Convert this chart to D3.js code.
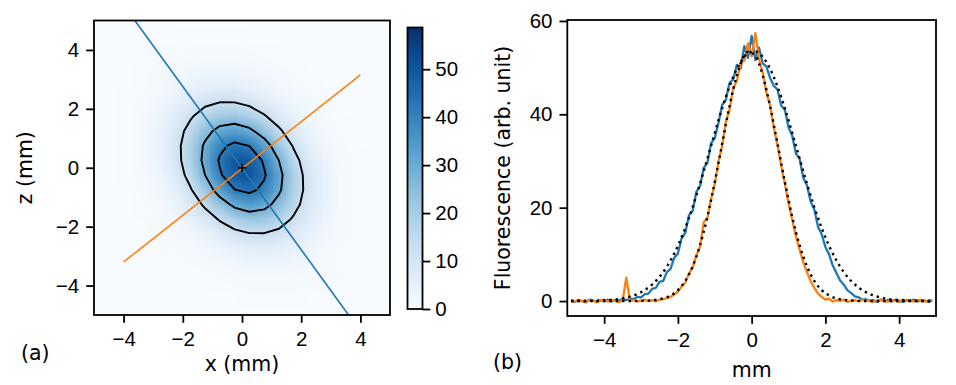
<!DOCTYPE html>
<html>
<head>
<meta charset="utf-8">
<script src="https://cdn.jsdelivr.net/npm/d3@7"></script>
<style>
body { margin: 0; background: #fff; }
svg { display: block; font-family: "DejaVu Sans", sans-serif; }
.axis path.domain { display: none; }
.axis line { stroke: #000; stroke-width: 1.8; }
.axis text { font-size: 20.5px; fill: #000; }
</style>
</head>
<body>
<div class="chart-wrapper"></div>
<script>
// ---- panel (a): fluorescence image, 0.5 mm cells, x and z from -5 to 5 mm (top row z = 4.75)
const heat = [
  [0,0,0,0,0,0.1,0.1,0.1,0.1,0.1,0,0,0,0,0,0,0,0,0,0],
  [0,0,0,0.1,0.1,0.2,0.3,0.3,0.3,0.3,0.2,0.1,0.1,0,0,0,0,0,0,0],
  [0,0,0.1,0.1,0.3,0.5,0.8,1.0,1.0,0.9,0.7,0.4,0.2,0.1,0,0,0,0,0,0],
  [0,0,0.1,0.3,0.7,1.3,2.0,2.5,2.7,2.5,1.9,1.2,0.7,0.3,0.1,0,0,0,0,0],
  [0,0.1,0.2,0.6,1.3,2.6,4.1,5.6,6.3,6.0,4.8,3.2,1.8,0.8,0.3,0.1,0,0,0,0],
  [0,0.1,0.3,0.9,2.2,4.5,7.5,10.6,12.5,12.4,10.2,7.1,4.2,2.0,0.8,0.3,0.1,0,0,0],
  [0,0.1,0.4,1.3,3.2,6.8,11.8,17.3,21.3,22.0,19.0,13.8,8.4,4.3,1.8,0.7,0.2,0.1,0,0],
  [0,0.1,0.5,1.6,4.0,8.8,16.0,24.4,31.3,33.7,30.3,22.9,14.5,7.7,3.4,1.3,0.4,0.1,0,0],
  [0,0.1,0.5,1.6,4.3,9.8,18.6,29.6,39.6,44.4,41.7,32.9,21.7,12.0,5.6,2.2,0.7,0.2,0,0],
  [0,0.1,0.4,1.4,4.0,9.4,18.6,31.0,43.2,50.4,49.4,40.6,27.9,16.1,7.8,3.2,1.1,0.3,0.1,0],
  [0,0.1,0.3,1.1,3.2,7.8,16.1,27.9,40.6,49.4,50.4,43.2,31.0,18.6,9.4,4.0,1.4,0.4,0.1,0],
  [0,0,0.2,0.7,2.2,5.6,12.0,21.7,32.9,41.7,44.4,39.6,29.6,18.6,9.8,4.3,1.6,0.5,0.1,0],
  [0,0,0.1,0.4,1.3,3.4,7.7,14.5,22.9,30.3,33.7,31.3,24.4,16.0,8.8,4.0,1.6,0.5,0.1,0],
  [0,0,0.1,0.2,0.7,1.8,4.3,8.4,13.8,19.0,22.0,21.3,17.3,11.8,6.8,3.2,1.3,0.4,0.1,0],
  [0,0,0,0.1,0.3,0.8,2.0,4.2,7.1,10.2,12.4,12.5,10.6,7.5,4.5,2.2,0.9,0.3,0.1,0],
  [0,0,0,0,0.1,0.3,0.8,1.8,3.2,4.8,6.0,6.3,5.6,4.1,2.6,1.3,0.6,0.2,0.1,0],
  [0,0,0,0,0,0.1,0.3,0.7,1.2,1.9,2.5,2.7,2.5,2.0,1.3,0.7,0.3,0.1,0,0],
  [0,0,0,0,0,0,0.1,0.2,0.4,0.7,0.9,1.0,1.0,0.8,0.5,0.3,0.1,0.1,0,0],
  [0,0,0,0,0,0,0,0.1,0.1,0.2,0.3,0.3,0.3,0.3,0.2,0.1,0.1,0,0,0],
  [0,0,0,0,0,0,0,0,0,0,0.1,0.1,0.1,0.1,0.1,0,0,0,0,0]
]
const heatExtent = [-5, 5]
const contourLevels = [13, 28, 42]
const colorMax = 58.7
const colorTicks = [0, 10, 20, 30, 40, 50]
const axisTicksA = [-4, -2, 0, 2, 4]

// cut lines through the spot
const blueCutX = [-3.62, 3.6]
const blueCutZ = [5.0, -5.0]
const orangeCutX = [-4.0, 4.0]
const orangeCutZ = [-3.2, 3.15]
const centre = [0, 0]

// ---- panel (b): profiles along the two cuts, 0.1 mm steps from -4.9 to 4.9
const profileMM = d3.range(-49, 50).map(i => i / 10)
const blueProfile = [
  0.1,-0.2,0.2,0.0,-0.3,0.3,0.1,-0.2,0.2,0.0,
  0.3,-0.1,0.2,0.1,0.4,0.2,0.5,0.4,0.9,0.8,
  1.5,1.6,2.6,2.8,4.1,4.3,6.2,6.9,9.3,10.2,
  13.4,14.6,18.4,19.3,23.4,24.6,28.5,29.6,33.8,34.9,
  38.2,42.0,43.1,46.7,47.5,50.6,49.8,54.6,52.1,56.8,
  51.6,54.3,50.9,50.2,47.8,46.1,45.3,41.9,41.0,37.2,
  35.4,31.6,30.5,26.4,24.8,21.3,19.6,15.9,14.3,11.6,
  10.0,7.6,6.0,4.4,3.5,2.3,1.7,1.0,0.8,0.3,
  0.4,0.0,0.2,-0.2,0.3,0.0,0.2,-0.1,0.3,0.1,
  -0.2,0.2,0.0,0.3,-0.1,0.2,0.1,-0.2,0.2
]
const orangeProfile = [
  0.2,-0.1,0.3,0.0,-0.2,0.2,0.1,-0.3,0.1,0.3,
  -0.1,0.2,0.0,-0.2,0.1,5.0,0.0,0.2,-0.1,0.1,
  0.3,0.0,0.2,-0.1,0.3,0.4,0.6,0.9,1.4,2.0,
  3.1,4.0,5.9,7.2,9.8,11.6,16.9,17.8,21.9,25.1,
  29.8,33.2,38.4,41.0,45.6,47.2,50.9,51.5,55.2,52.4,
  57.4,51.8,48.9,44.6,42.0,37.1,33.5,29.0,25.2,21.0,
  17.4,13.9,11.0,8.3,6.2,4.3,2.8,1.6,0.9,0.3,
  0.5,-0.1,0.2,0.0,0.3,-0.2,0.1,0.2,-0.1,0.3,
  0.0,0.2,-0.2,0.1,0.3,0.0,-0.1,0.2,0.1,-0.2,
  0.3,0.0,0.1,-0.1,0.2,0.3,-0.1,0.1,0.2
]
// gaussian fits (dotted), 0.2 mm steps from -4.9 to 4.9
const fitMM = d3.range(-49, 50, 2).map(i => i / 10)
const blueFit = [
  0.01,0.02,0.03,0.06,0.11,0.20,0.34,0.58,0.95,1.52,
  2.35,3.54,5.18,7.36,10.17,13.66,17.81,22.58,27.81,33.27,
  38.70,43.72,48.0,51.2,53.07,53.45,52.3,49.75,45.95,41.28,
  36.0,30.53,25.14,20.11,15.65,11.83,8.69,6.20,4.30,2.90,
  1.90,1.21,0.74,0.45,0.26,0.15,0.08,0.04,0.02,0.01
]
const orangeFit = [
  0,0,0,0,0,0,0,0,0.01,0.03,
  0.07,0.17,0.39,0.84,1.69,3.21,5.71,9.50,14.82,21.63,
  29.55,37.81,45.30,50.82,53.39,52.52,48.38,41.72,33.77,25.54,
  18.04,11.96,7.43,4.32,2.35,1.20,0.57,0.26,0.11,0.04,
  0.01,0,0,0,0,0,0,0,0,0
]
const axisTicksBX = [-4, -2, 0, 2, 4]
const axisTicksBY = [0, 20, 40, 60]

const blue = '#1f77b4'
const orange = '#ff7f0e'
const fontSize = '20.5px'

const width = 956, height = 385

const svg = d3.select('.chart-wrapper').append('svg')
  .attr('width', width)
  .attr('height', height)

const defs = svg.append('defs')

// ================= panel (a) =================
const a = {left: 94, right: 390, top: 20.5, bottom: 315}
const xA = d3.scaleLinear().domain([-5, 5]).range([a.left, a.right])
const zA = d3.scaleLinear().domain([-5, 5]).range([a.bottom, a.top])
const color = d3.scaleSequential(d3.interpolateBlues).domain([0, colorMax])

defs.append('clipPath').attr('id', 'clipA')
  .append('rect')
  .attr('x', a.left).attr('y', a.top)
  .attr('width', a.right - a.left).attr('height', a.bottom - a.top)

const gA = svg.append('g').attr('clip-path', 'url(#clipA)')

gA.append('rect')
  .attr('x', a.left).attr('y', a.top)
  .attr('width', a.right - a.left).attr('height', a.bottom - a.top)
  .attr('fill', color(0))

// paint the grid into a tiny canvas, the browser smooths it when scaled up
const n = heat.length
const canvas = document.createElement('canvas')
canvas.width = n; canvas.height = n
const ctx = canvas.getContext('2d')
const img = ctx.createImageData(n, n)
heat.forEach((row, j) => row.forEach((v, i) => {
  const c = d3.rgb(color(v))
  const k = 4 * (j * n + i)
  img.data[k] = c.r; img.data[k + 1] = c.g; img.data[k + 2] = c.b; img.data[k + 3] = 255
}))
ctx.putImageData(img, 0, 0)

gA.append('image')
  .attr('href', canvas.toDataURL())
  .attr('x', xA(heatExtent[0]))
  .attr('y', zA(heatExtent[1]))
  .attr('width', xA(heatExtent[1]) - xA(heatExtent[0]))
  .attr('height', zA(heatExtent[0]) - zA(heatExtent[1]))
  .attr('preserveAspectRatio', 'none')
  .style('image-rendering', 'auto')

const cell = (heatExtent[1] - heatExtent[0]) / n
const contourProj = d3.geoTransform({
  point(px, py) { this.stream.point(xA(heatExtent[0] + px * cell), zA(heatExtent[1] - py * cell)) }
})
const contours = d3.contours().size([n, n]).thresholds(contourLevels)(heat.flat())

gA.append('g').selectAll('path')
  .data(contours)
  .enter()
  .append('path')
  .attr('d', d3.geoPath(contourProj))
  .style('fill', 'none')
  .style('stroke', '#000')
  .style('stroke-width', 1.9)
  .style('stroke-linejoin', 'round')

const cutLine = d3.line().x(d => xA(d[0])).y(d => zA(d[1]))

gA.append('path')
  .attr('d', cutLine(d3.zip(blueCutX, blueCutZ)))
  .style('fill', 'none').style('stroke', blue).style('stroke-width', 1.6)

gA.append('path')
  .attr('d', cutLine(d3.zip(orangeCutX, orangeCutZ)))
  .style('fill', 'none').style('stroke', orange).style('stroke-width', 1.6)

gA.append('path')
  .attr('transform', `translate(${xA(centre[0])},${zA(centre[1])})`)
  .attr('d', 'M-4,0H4M0,-4V4')
  .style('stroke', '#000').style('stroke-width', 1.6)

svg.append('rect')
  .attr('x', a.left).attr('y', a.top)
  .attr('width', a.right - a.left).attr('height', a.bottom - a.top)
  .style('fill', 'none').style('stroke', '#000').style('stroke-width', 1.8)

svg.append('g')
  .attr('class', 'axis')
  .attr('transform', `translate(0,${a.bottom})`)
  .call(d3.axisBottom(xA).tickValues(axisTicksA).tickSize(7.8).tickPadding(8.5).tickSizeOuter(0))

svg.append('g')
  .attr('class', 'axis')
  .attr('transform', `translate(${a.left},0)`)
  .call(d3.axisLeft(zA).tickValues(axisTicksA).tickSize(7.8).tickPadding(7).tickSizeOuter(0))

// colorbar
const cb = {left: 407.5, right: 422.5, top: 27.5, bottom: 309}
const yCB = d3.scaleLinear().domain([0, colorMax]).range([cb.bottom, cb.top])

const grad = defs.append('linearGradient')
  .attr('id', 'cbGrad')
  .attr('x1', 0).attr('x2', 0).attr('y1', 1).attr('y2', 0)
grad.selectAll('stop')
  .data(d3.range(0, 1.0001, 0.05))
  .enter()
  .append('stop')
  .attr('offset', d => d)
  .attr('stop-color', d => d3.interpolateBlues(d))

svg.append('rect')
  .attr('x', cb.left).attr('y', cb.top)
  .attr('width', cb.right - cb.left).attr('height', cb.bottom - cb.top)
  .style('fill', 'url(#cbGrad)')
  .style('stroke', '#000').style('stroke-width', 1.8)

svg.append('g')
  .attr('class', 'axis')
  .attr('transform', `translate(${cb.right},0)`)
  .call(d3.axisRight(yCB).tickValues(colorTicks).tickSize(7.8).tickPadding(5).tickSizeOuter(0))

svg.append('text')
  .attr('x', (a.left + a.right) / 2).attr('y', 371)
  .attr('text-anchor', 'middle')
  .style('font-size', fontSize)
  .text('x (mm)')

svg.append('text')
  .attr('transform', `translate(32,${(a.top + a.bottom) / 2}) rotate(-90)`)
  .attr('text-anchor', 'middle')
  .style('font-size', fontSize)
  .text('z (mm)')

svg.append('text')
  .attr('x', 21).attr('y', 360)
  .style('font-size', fontSize)
  .text('(a)')

// ================= panel (b) =================
const b = {left: 567.3, right: 936, top: 20, bottom: 316}
const xB = d3.scaleLinear().domain([-5, 5]).range([b.left, b.right])
const yB = d3.scaleLinear().domain([-3.2, 60.2]).range([b.bottom, b.top])

defs.append('clipPath').attr('id', 'clipB')
  .append('rect')
  .attr('x', b.left).attr('y', b.top)
  .attr('width', b.right - b.left).attr('height', b.bottom - b.top)

const gB = svg.append('g').attr('clip-path', 'url(#clipB)')

const profLine = d3.line().x(d => xB(d[0])).y(d => yB(d[1]))
const fitLine = d3.line().x(d => xB(d[0])).y(d => yB(d[1])).curve(d3.curveMonotoneX)

gB.append('path')
  .attr('d', profLine(d3.zip(profileMM, blueProfile)))
  .style('fill', 'none').style('stroke', blue).style('stroke-width', 2.3)
  .style('stroke-linejoin', 'round')

gB.append('path')
  .attr('d', profLine(d3.zip(profileMM, orangeProfile)))
  .style('fill', 'none').style('stroke', orange).style('stroke-width', 2.3)
  .style('stroke-linejoin', 'round')

gB.append('path')
  .attr('d', fitLine(d3.zip(fitMM, blueFit)))
  .style('fill', 'none').style('stroke', '#000').style('stroke-width', 2.4)
  .style('stroke-dasharray', '2.4,4')

gB.append('path')
  .attr('d', fitLine(d3.zip(fitMM, orangeFit)))
  .style('fill', 'none').style('stroke', '#000').style('stroke-width', 2.4)
  .style('stroke-dasharray', '2.4,4')

svg.append('rect')
  .attr('x', b.left).attr('y', b.top)
  .attr('width', b.right - b.left).attr('height', b.bottom - b.top)
  .style('fill', 'none').style('stroke', '#000').style('stroke-width', 1.8)

svg.append('g')
  .attr('class', 'axis')
  .attr('transform', `translate(0,${b.bottom})`)
  .call(d3.axisBottom(xB).tickValues(axisTicksBX).tickSize(7.8).tickPadding(8.5).tickSizeOuter(0))

svg.append('g')
  .attr('class', 'axis')
  .attr('transform', `translate(${b.left},0)`)
  .call(d3.axisLeft(yB).tickValues(axisTicksBY).tickSize(7.8).tickPadding(7).tickSizeOuter(0))

svg.append('text')
  .attr('x', (b.left + b.right) / 2).attr('y', 377)
  .attr('text-anchor', 'middle')
  .style('font-size', fontSize)
  .text('mm')

svg.append('text')
  .attr('transform', `translate(510,${(b.top + b.bottom) / 2}) rotate(-90)`)
  .attr('text-anchor', 'middle')
  .style('font-size', fontSize)
  .text('Fluorescence (arb. unit)')

svg.append('text')
  .attr('x', 493).attr('y', 369)
  .style('font-size', fontSize)
  .text('(b)')
</script>
</body>
</html>
